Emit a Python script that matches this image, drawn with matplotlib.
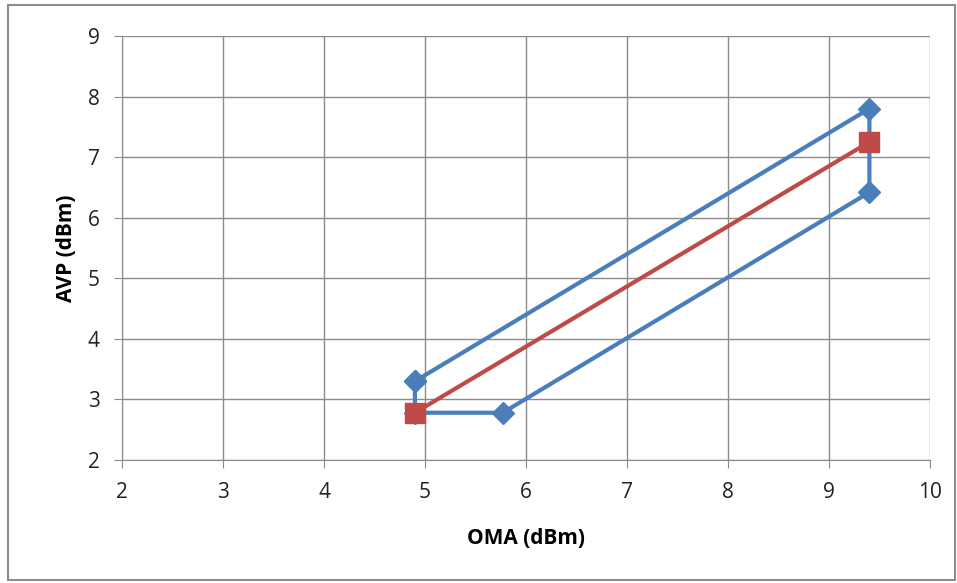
import matplotlib.pyplot as plt
from matplotlib.patches import Rectangle

# Upper/lower envelope traced as a closed loop, plus the centre line
env_oma = [4.9, 9.4, 9.4, 5.77, 4.9, 4.9]
env_avp = [3.3, 7.8, 6.42, 2.78, 2.78, 3.3]
mid_oma = [4.9, 9.4]
mid_avp = [2.78, 7.25]

x_ticks = [2, 3, 4, 5, 6, 7, 8, 9, 10]
y_ticks = [2, 3, 4, 5, 6, 7, 8, 9]

plt.rcParams['font.family'] = ['Open Sans', 'DejaVu Sans']

fig = plt.figure(figsize=(9.57, 5.83), dpi=100)
ax = fig.add_axes([0.1275, 0.211, 0.8443, 0.7273])

blue = '#4A7EBB'
red = '#BE4B48'
ax.plot(env_oma, env_avp, color=blue, lw=3, marker='D', ms=11,
        markerfacecolor=blue, markeredgecolor=blue, zorder=3)
ax.plot(mid_oma, mid_avp, color=red, lw=3, marker='s', ms=14,
        markerfacecolor=red, markeredgecolor=red, zorder=4)

ax.set_xlim(2, 10)
ax.set_ylim(2, 9)
ax.set_xticks(x_ticks)
ax.set_yticks(y_ticks)
ax.grid(True, color='#8c8c8c', lw=1)
ax.set_axisbelow(True)
for side in ('top', 'right'):
    ax.spines[side].set_visible(False)
for side in ('left', 'bottom'):
    ax.spines[side].set_color('#8c8c8c')
ax.tick_params(direction='out', length=6, color='#8c8c8c', labelsize=15,
               labelcolor='#222222')
ax.tick_params(axis='x', pad=10)
ax.tick_params(axis='y', pad=10)

ax.set_xlabel('OMA (dBm)', fontsize=15, fontweight='bold', labelpad=18)
ax.set_ylabel('AVP (dBm)', fontsize=15, fontweight='bold', labelpad=8)

# frame around the whole chart area
fig.patches.append(Rectangle((0.008, 0.005), 0.99, 0.987, transform=fig.transFigure,
                             fill=False, edgecolor='#8c8c8c', lw=1.5))

fig.savefig('out.png', dpi=100)
